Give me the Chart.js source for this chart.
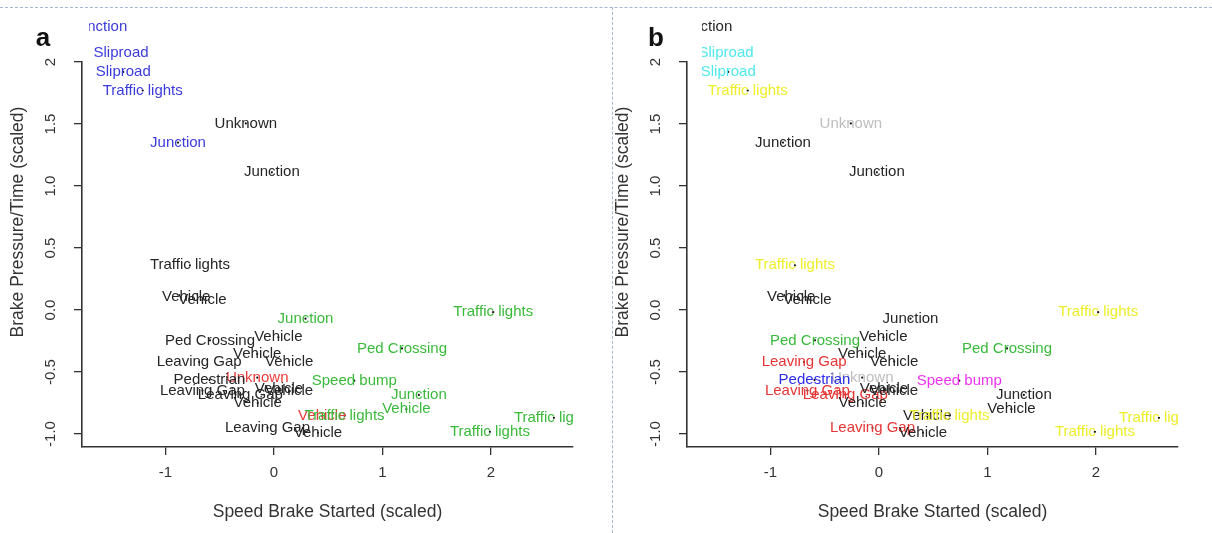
<!DOCTYPE html>
<html><head><meta charset="utf-8">
<script src="https://cdn.jsdelivr.net/npm/chart.js@4.4.1/dist/chart.umd.min.js"></script>
<style>
html,body{margin:0;padding:0;background:#fff}
body{width:1212px;height:533px;overflow:hidden;position:relative;font-family:"Liberation Sans",Arial,sans-serif}
#ca{position:absolute;left:0;top:0}
#cb{position:absolute;left:605px;top:0}
.hd{position:absolute;left:0;top:7px;width:1212px;height:0;border-top:1px dashed #a6b7d6}
.vd{position:absolute;left:612px;top:7px;width:0;height:526px;border-left:1px dashed #a6b7d6}
</style></head><body>
<canvas id="ca" width="605" height="533"></canvas>
<canvas id="cb" width="607" height="533"></canvas>
<div class="hd"></div><div class="vd"></div>
<script>
// ---- data ----
const labels = ["Junction","Sliproad","Sliproad","Traffic lights","Unknown","Junction","Junction","Traffic lights",
  "Vehicle","Vehicle","Junction","Traffic lights","Ped Crossing","Vehicle","Ped Crossing","Leaving Gap",
  "Vehicle","Vehicle","Unknown","Pedestrian","Speed bump","Leaving Gap","Leaving Gap","Vehicle","Vehicle",
  "Vehicle","Vehicle","Traffic lights","Junction","Vehicle","Traffic lights","Traffic lights","Leaving Gap","Vehicle"];
const xVals = [-1.61,-1.41,-1.39,-1.21,-0.26,-0.885,-0.02,-0.775,
  -0.81,-0.66,0.29,2.02,-0.59,0.04,1.18,-0.69,
  -0.155,0.14,-0.155,-0.595,0.74,-0.66,-0.31,0.046,0.138,
  -0.15,0.445,0.65,1.335,1.22,2.58,1.99,-0.06,0.405];
const yVals = [2.28,2.07,1.92,1.77,1.505,1.35,1.11,0.36,
  0.105,0.08,-0.07,-0.018,-0.245,-0.22,-0.31,-0.42,
  -0.355,-0.415,-0.545,-0.565,-0.57,-0.65,-0.685,-0.637,-0.653,
  -0.75,-0.855,-0.852,-0.685,-0.80,-0.87,-0.983,-0.95,-0.99];
// panel a: cluster membership (1 blue, 2 black, 3 green, 4 red)
const clusterA = [1,1,1,1,2,1,2,2,
  2,2,3,3,2,2,3,2,
  2,2,4,2,3,2,2,2,2,
  2,4,3,3,3,3,3,2,2];
const xTickValues = [-1,0,1,2];
const xTickLabels = ["-1","0","1","2"];
const yTickValues = [-1,-0.5,0,0.5,1,1.5,2];
const yTickLabels = ["-1.0","-0.5","0.0","0.5","1.0","1.5","2"];

// ---- styles ----
const clusterColors = {1:"#3b3bdc",2:"#262626",3:"#3aba3a",4:"#ea3a3a"};
const categoryColors = {"Junction":"#262626","Sliproad":"#4fe8ee","Traffic lights":"#eeee2a","Unknown":"#bdbdbd",
  "Vehicle":"#262626","Ped Crossing":"#3aba3a","Leaving Gap":"#e53535","Pedestrian":"#2d2de6","Speed bump":"#ee33ee"};
const FONT = '"Liberation Sans", Arial, sans-serif';
const AX = '#333333';

function makeChart(id, colors, letter, letterX, clipLeft, padRight){
  const pts = xVals.map((x,i)=>({x:x,y:yVals[i]}));
  const deco = {
    id:'deco',
    afterDatasetsDraw(chart){
      const {ctx, chartArea} = chart;
      const xs = chart.scales.x, ys = chart.scales.y;
      // point labels
      ctx.save();
      ctx.beginPath();
      ctx.rect(clipLeft, 0, chartArea.right - clipLeft, chartArea.bottom);
      ctx.clip();
      ctx.font = '15px ' + FONT;
      ctx.textAlign = 'center'; ctx.textBaseline = 'middle';
      for (let i=0;i<labels.length;i++){
        ctx.fillStyle = colors[i];
        ctx.fillText(labels[i], xs.getPixelForValue(xVals[i]), ys.getPixelForValue(yVals[i]));
      }
      ctx.restore();
      // y tick labels (rotated, R style)
      ctx.save();
      ctx.font = '15px ' + FONT;
      ctx.fillStyle = AX;
      ctx.textAlign = 'center'; ctx.textBaseline = 'middle';
      yTickValues.forEach((v,i)=>{
        const py = ys.getPixelForValue(v);
        ctx.save(); ctx.translate(51, py); ctx.rotate(-Math.PI/2);
        ctx.fillText(yTickLabels[i], 0, 0); ctx.restore();
      });
      // y title
      ctx.font = '17.5px ' + FONT;
      ctx.save(); ctx.translate(18, 222); ctx.rotate(-Math.PI/2);
      ctx.fillText('Brake Pressure/Time (scaled)', 0, 0); ctx.restore();
      // panel letter
      ctx.font = 'bold 26px ' + FONT;
      ctx.fillStyle = '#111';
      ctx.fillText(letter, letterX, 39);
      ctx.restore();
    }
  };
  return new Chart(document.getElementById(id), {
    type:'scatter',
    data:{datasets:[{data:pts, pointRadius:1.1, pointHoverRadius:1.1, backgroundColor:'#111', borderColor:'#111', borderWidth:0}]},
    options:{
      responsive:false, animation:false, events:[],
      layout:{padding:{top:62,right:padRight,left:0,bottom:0}},
      plugins:{legend:{display:false},tooltip:{enabled:false}},
      scales:{
        x:{type:'linear',min:-1.77,max:2.756,
          afterBuildTicks:s=>{s.ticks = xTickValues.map(v=>({value:v}));},
          afterFit:s=>{s.height = 86;},
          grid:{drawOnChartArea:false,drawTicks:true,tickLength:8,color:AX,lineWidth:1.3},
          border:{display:true,color:AX,width:1.6},
          ticks:{font:{size:15,family:FONT},color:AX,padding:9,maxRotation:0,
            callback:(v)=>{const k=xTickValues.indexOf(v);return k>=0?xTickLabels[k]:'';}},
          title:{display:true,text:'Speed Brake Started (scaled)',color:AX,font:{size:17.5,family:FONT},padding:{top:0,bottom:10}}
        },
        y:{type:'linear',min:-1.105,max:2.0,
          afterBuildTicks:s=>{s.ticks = yTickValues.map(v=>({value:v}));},
          afterFit:s=>{s.width = 82;},
          grid:{drawOnChartArea:false,drawTicks:true,tickLength:8,color:AX,lineWidth:1.3},
          border:{display:true,color:AX,width:1.6},
          ticks:{display:false}
        }
      }
    },
    plugins:[deco]
  });
}

const colorsA = clusterA.map(c=>clusterColors[c]);
const colorsB = labels.map(l=>categoryColors[l]);
makeChart('ca', colorsA, 'a', 43, 89, 32);
makeChart('cb', colorsB, 'b', 51, 97, 34);
</script>
</body></html>
